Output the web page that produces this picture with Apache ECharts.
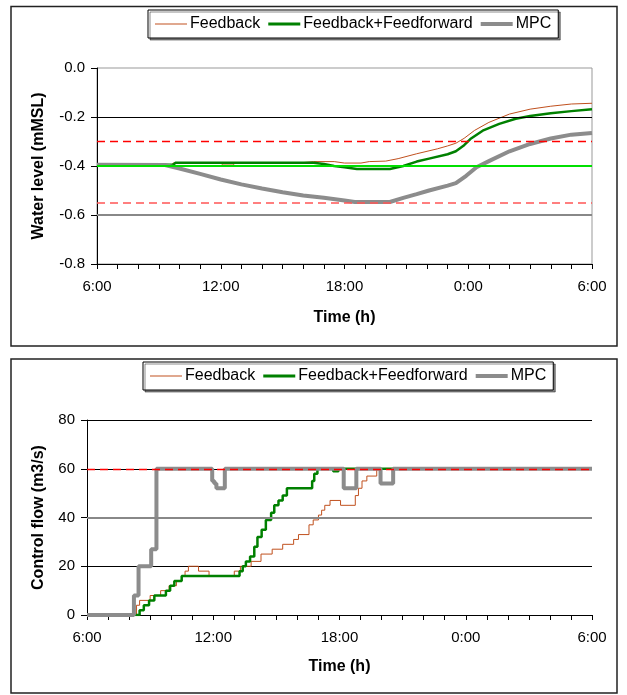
<!DOCTYPE html>
<html>
<head>
<meta charset="utf-8">
<script src="https://cdn.jsdelivr.net/npm/echarts@6/dist/echarts.min.js"></script>
<style>
html,body{margin:0;padding:0;background:#fff;}
#chart{width:627px;height:695px;}
</style>
</head>
<body>
<div id="chart"></div>
<script>
// ---- Data (hours after 6:00) ----
const seriesNames = ['Feedback', 'Feedback+Feedforward', 'MPC'];
const timeTickHours = [0, 6, 12, 18, 24];
const timeTickLabels = ['6:00', '12:00', '18:00', '0:00', '6:00'];

// Water level (mMSL)
const levelFeedback = [[0,-0.395],[3.6,-0.395],[3.7,-0.388],[6.0,-0.388],[6.1,-0.396],[6.6,-0.396],[6.7,-0.388],[10.0,-0.386],[10.5,-0.382],[11.5,-0.382],[12.0,-0.388],[12.8,-0.388],[13.2,-0.382],[14.0,-0.380],[14.6,-0.370],[15.5,-0.350],[16.5,-0.330],[17.0,-0.318],[17.4,-0.307],[17.8,-0.287],[18.3,-0.255],[19.0,-0.222],[20.0,-0.188],[21.0,-0.168],[22.0,-0.156],[23.0,-0.147],[24,-0.144]];
const levelFeedforward = [[0,-0.395],[3.7,-0.395],[3.8,-0.387],[10.5,-0.387],[11.0,-0.392],[11.5,-0.400],[12.0,-0.405],[12.6,-0.412],[14.2,-0.412],[14.85,-0.400],[15.5,-0.382],[16.1,-0.370],[17.0,-0.352],[17.4,-0.340],[17.8,-0.315],[18.1,-0.290],[18.7,-0.256],[19.5,-0.228],[20.3,-0.207],[21.0,-0.196],[22.0,-0.185],[23.0,-0.176],[24,-0.168]];
const levelMPC = [[0,-0.395],[3.3,-0.396],[4.0,-0.410],[5.0,-0.432],[6.0,-0.455],[7.0,-0.475],[8.0,-0.492],[9.0,-0.507],[10.0,-0.520],[11.0,-0.530],[12.0,-0.541],[12.5,-0.547],[14.2,-0.547],[14.85,-0.530],[15.5,-0.515],[16.1,-0.500],[17.0,-0.480],[17.4,-0.470],[17.9,-0.440],[18.4,-0.405],[19.05,-0.378],[20.0,-0.340],[21.0,-0.310],[22.0,-0.288],[23.0,-0.272],[24,-0.265]];
const levelSetpoint = -0.4;
const levelLimits = [-0.3, -0.55];
const levelGrayLine = -0.6;
const levelBlackLine = -0.2;

// Control flow (m3/s), value holds from given hour
const flowFeedback = [[0,0],[2.35,4],[2.5,6],[3.0,8],[3.5,10],[3.9,12],[4.25,14],[4.5,16],[4.66,18],[4.82,20],[5.3,18],[5.8,16],[7.0,18],[7.29,20],[7.8,22],[8.27,25],[8.8,27],[9.3,29],[9.82,31],[10.05,33],[10.55,37],[10.75,39],[11.0,41],[11.15,43],[11.3,45],[11.55,47],[12.05,45],[12.75,49],[12.9,52],[13.07,55],[13.3,57],[13.77,60],[24,60]];
const flowFeedforward = [[0,0],[2.5,2],[2.7,4],[2.95,6],[3.2,8],[3.75,10],[3.95,12],[4.15,14],[4.5,16],[7.25,18],[7.4,20],[7.55,22],[7.75,24],[7.95,28],[8.1,32],[8.3,35],[8.5,39],[8.75,42],[8.9,45],[9.1,47],[9.3,49],[9.5,52],[10.7,55],[10.8,58],[10.95,60],[11.7,59],[11.95,60],[24,60]];
const flowMPC = [[0,0],[2.23,8],[2.45,20],[3.05,27],[3.3,60],[5.95,55],[6.05,54],[6.15,52],[6.55,60],[12.2,52],[12.8,60],[13.95,54],[14.55,60],[24,60]];
const flowMax = 60;
const flowGrayLine = 40;

// ---- Styles ----
const FONT = 'Liberation Sans, Arial, sans-serif';
const colFB = '#c0501e', colFF = '#008000', colMPC = '#8c8c8c';

function timeLabel(v) {
  const i = timeTickHours.indexOf(v);
  return i >= 0 ? timeTickLabels[i] : '';
}

function xAxisCfg(gridIndex, gap) {
  return {
    type: 'value', gridIndex, min: 0, max: 24, interval: 6,
    name: 'Time (h)', nameLocation: 'middle', nameGap: gap,
    nameTextStyle: { fontFamily: FONT, fontSize: 16, fontWeight: 'bold', color: '#000' },
    axisLine: { show: true, onZero: false, lineStyle: { color: '#000', width: 1 } },
    axisTick: { show: true, inside: false, length: 5, lineStyle: { color: '#000' } },
    minorTick: { show: true, splitNumber: 6, length: 5, lineStyle: { color: '#000' } },
    splitLine: { show: false },
    axisLabel: { formatter: timeLabel, fontFamily: FONT, fontSize: 15, color: '#000', margin: 15 }
  };
}

function yAxisCfg(gridIndex, opts) {
  return Object.assign({
    type: 'value', gridIndex,
    nameLocation: 'middle', nameRotate: 90,
    nameTextStyle: { fontFamily: FONT, fontSize: 16, fontWeight: 'bold', color: '#000' },
    axisLine: { show: true, onZero: false, lineStyle: { color: '#000', width: 1 } },
    axisTick: { show: true, inside: false, length: 6, lineStyle: { color: '#000' } },
    axisLabel: { fontFamily: FONT, fontSize: 15, color: '#000', margin: 12 }
  }, opts);
}

function hLine(value, color, width, type) {
  return { yAxis: value, lineStyle: { color, width, type: type || 'solid', opacity: 1 } };
}

function markSeries(xi, lines) {
  return {
    type: 'line', xAxisIndex: xi, yAxisIndex: xi, data: [], silent: true,
    markLine: { silent: true, symbol: 'none', label: { show: false }, animation: false,
      emphasis: { disabled: true }, data: lines }
  };
}

function dataSeries(name, xi, data, color, width, step) {
  return {
    name, type: 'line', xAxisIndex: xi, yAxisIndex: xi, data,
    step: step ? 'end' : false, showSymbol: false, symbol: 'none', animation: false,
    lineStyle: { color, width }, itemStyle: { color }
  };
}

function legendCfg(top, left) {
  return {
    top, left, orient: 'horizontal',
    padding: [6, 7], itemGap: 8, itemWidth: 32, itemHeight: 14,
    borderColor: '#000', borderWidth: 1, backgroundColor: '#fff',
    shadowColor: 'rgba(0,0,0,0.45)', shadowOffsetX: 2, shadowOffsetY: 2, shadowBlur: 0,
    textStyle: { fontFamily: FONT, fontSize: 16, color: '#000', padding: [0, 0, 0, -2] },
    selectedMode: false,
    data: [
      { name: seriesNames[0], icon: 'path://M0,6.5 L32,6.5 L32,7.5 L0,7.5 Z', itemStyle: { color: colFB } },
      { name: seriesNames[1], icon: 'path://M0,5.5 L32,5.5 L32,8.5 L0,8.5 Z', itemStyle: { color: colFF } },
      { name: seriesNames[2], icon: 'path://M0,5 L32,5 L32,9 L0,9 Z', itemStyle: { color: colMPC } }
    ]
  };
}

const chart = echarts.init(document.getElementById('chart'), null, { renderer: 'canvas' });
chart.setOption({
  animation: false,
  backgroundColor: '#fff',
  graphic: [
    { type: 'rect', shape: { x: 11, y: 6.5, width: 606, height: 339.5 }, style: { fill: null, stroke: '#222', lineWidth: 1.5 }, z: 0 },
    { type: 'rect', shape: { x: 11, y: 359, width: 606, height: 334 }, style: { fill: null, stroke: '#222', lineWidth: 1.5 }, z: 0 }
  ],
  legend: [legendCfg(10, 148), legendCfg(362, 143)],
  grid: [
    { left: 97, right: 35, top: 68, height: 196, show: true, borderColor: '#999', borderWidth: 1, backgroundColor: 'transparent' },
    { left: 87, right: 35, top: 420, height: 195 }
  ],
  xAxis: [xAxisCfg(0, 46), xAxisCfg(1, 44)],
  yAxis: [
    yAxisCfg(0, { min: -0.8, max: 0, interval: 0.2, name: 'Water level (mMSL)', nameGap: 50,
      splitLine: { show: false },
      axisLabel: { fontFamily: FONT, fontSize: 15, color: '#000', margin: 12, formatter: v => v.toFixed(1) } }),
    yAxisCfg(1, { min: 0, max: 80, interval: 20, name: 'Control flow (m3/s)', nameGap: 40,
      splitLine: { show: true, lineStyle: { color: '#000', width: 1 } } })
  ],
  series: [
    markSeries(0, [hLine(levelBlackLine, '#000', 1), hLine(levelGrayLine, '#888', 2)]),
    markSeries(1, [hLine(flowGrayLine, '#888', 2)]),
    dataSeries(seriesNames[0], 0, levelFeedback, colFB, 1),
    dataSeries(seriesNames[1], 0, levelFeedforward, colFF, 2.5),
    dataSeries(seriesNames[2], 0, levelMPC, colMPC, 4),
    dataSeries(seriesNames[0], 1, flowFeedback, colFB, 1, true),
    dataSeries(seriesNames[1], 1, flowFeedforward, colFF, 2.5, true),
    dataSeries(seriesNames[2], 1, flowMPC, colMPC, 4, true),
    markSeries(0, [hLine(levelSetpoint, '#00e000', 2), hLine(levelLimits[0], '#ff0000', 1.4, [8, 5]), hLine(levelLimits[1], '#ff5555', 1.6, [8, 5])]),
    markSeries(1, [hLine(flowMax, '#ff0000', 1.4, [8, 5])])
  ]
});
</script>
</body>
</html>
